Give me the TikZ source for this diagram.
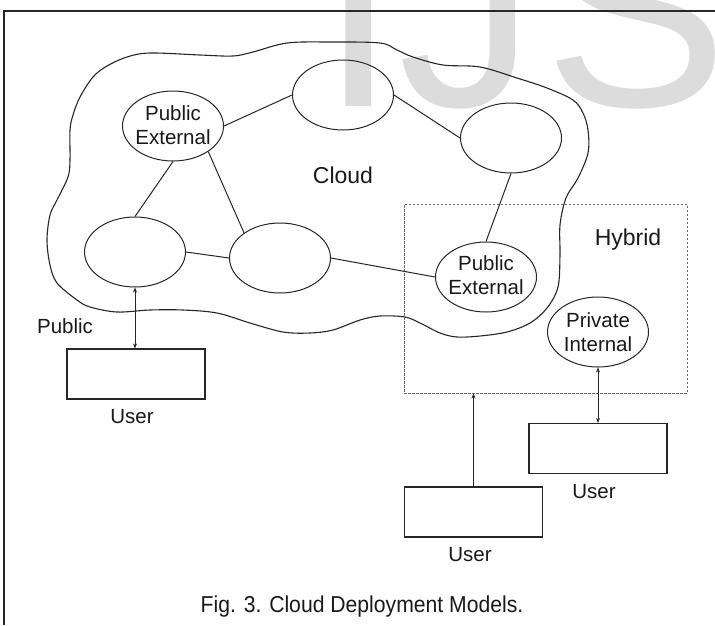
\documentclass[tikz,border=0pt]{standalone}
\usepackage{fontspec}
\setmainfont{Liberation Sans}
\newfontfamily\capfont[FakeStretch=0.92]{Liberation Sans}
\usetikzlibrary{shapes.geometric,arrows.meta}
\definecolor{wmgray}{HTML}{DCDCDC}
\definecolor{ink}{HTML}{262626}

\begin{document}
\begin{tikzpicture}[x=1pt,y=-1pt,
  site/.style={draw=ink, line width=1pt, ellipse, minimum width=101pt, minimum height=70pt, inner sep=0pt},
  sitetext/.style={font=\fontsize{20.5}{24}\selectfont, align=center, text=black!90, inner sep=0pt},
  userbox/.style={draw=ink, line width=1.1pt, rectangle, minimum width=138pt, minimum height=50pt, inner sep=0pt},
  caption/.style={font=\fontsize{20.5}{24}\selectfont, text=black!90, inner sep=0pt, anchor=base},
  bigcaption/.style={font=\fontsize{23}{27}\selectfont, text=black!90, inner sep=0pt, anchor=base},
  watermark/.style={font=\fontsize{275}{275}\selectfont, text=wmgray, inner sep=0pt, anchor=base},
  link/.style={draw=ink, line width=1pt},
  biarrow/.style={link, {Stealth[length=5pt,width=4pt]}-{Stealth[length=5pt,width=4pt]}},
  uparrow/.style={link, -{Stealth[length=5pt,width=4pt]}},
]
\useasboundingbox (0,0) rectangle (715,625);

% journal watermark behind everything
\begin{scope}
  \clip (0,0) rectangle (715,625);
  \node[watermark] (wmI) at (359,106.5) {I};
  \node[watermark] (wmJ) at (467,106.5) {J};
  \node[watermark] (wmS) at (636,106.5) {S};
\end{scope}

% page frame (top and left rules)
\draw[line width=2pt, ink] (4,625) -- (4,11) -- (715,11);

% cloud outline
\draw[ink, line width=1.1pt] plot[smooth cycle, tension=0.55] coordinates {
  (93,77) (107,66) (127,57) (150,53) (200,55) (233,56) (253,52) (287,43)
  (330,42) (380,43) (397,50) (413,57) (443,65) (480,67) (517,78) (547,88)
  (573,100) (583,113) (588,130) (588,153) (578,178) (566,198) (560,225)
  (560,255) (558,287) (547,308) (530,323) (507,332) (480,336) (457,337)
  (440,333) (420,323) (405,317) (380,316) (360,320) (333,330) (310,333)
  (283,332) (250,323) (217,313) (183,310) (150,310) (117,312) (90,307)
  (77,300) (57,283) (50,265) (47,240) (50,215) (57,200) (68,177) (70,160)
  (70,130) (73,115) (80,97)};

% hybrid region
\node[draw=black!60, line width=1pt, dash pattern=on 2.5pt off 1.5pt,
      rectangle, minimum width=283pt, minimum height=189pt, inner sep=0pt]
      (hybrid) at (545.5,298.5) {};

% sites
\node[site] (pe1) at (173,126) {};
\node[site] (top) at (343,95) {};
\node[site] (rt)  at (511,138) {};
\node[site] (lb)  at (135,252) {};
\node[site] (mb)  at (280,258) {};
\node[site] (pe2) at (486,277) {};
\node[site] (pi)  at (598,332) {};

\node[sitetext] (pe1t) at (173,125.5) {Public\\External};
\node[sitetext] (pe2t) at (486,275.5) {Public\\External};
\node[sitetext] (pit)  at (598,332.5) {Private\\Internal};

% links between sites
\draw[link] (pe1.east) -- (top.west);
\draw[link] (top.east) -- (rt.west);
\draw[link] (pe1.south) -- (lb.north);
\draw[link] (pe1.-36) -- (mb.145);
\draw[link] (lb.east) -- (mb.west);
\draw[link] (mb.east) -- (pe2.west);
\draw[link] (rt.south) -- (pe2.north);

% users
\node[userbox] (ub1) at (136,374) {};
\node[userbox] (ub2) at (598,448.5) {};
\node[userbox] (ub3) at (473.5,512) {};

\draw[biarrow] (lb.south) -- (lb.south |- ub1.north);
\draw[biarrow] (pi.south) -- (pi.south |- ub2.north);
\draw[uparrow] (ub3.north) -- (ub3.north |- hybrid.south);

% labels
\node[bigcaption] (cloudlbl)  at (343,183) {Cloud};
\node[bigcaption] (hybridlbl) at (628,245) {Hybrid};
\node[caption] (publbl) at (65,333) {Public};
\node[caption] (u1lbl) at (132,423) {User};
\node[caption] (u2lbl) at (594,498) {User};
\node[caption] (u3lbl) at (470,561) {User};

\node[font=\capfont\fontsize{23}{27}\selectfont, text=black!90, inner sep=0pt, anchor=base]
  (fig) at (362,612) {Fig. 3. Cloud Deployment Models.};
\end{tikzpicture}
\end{document}
